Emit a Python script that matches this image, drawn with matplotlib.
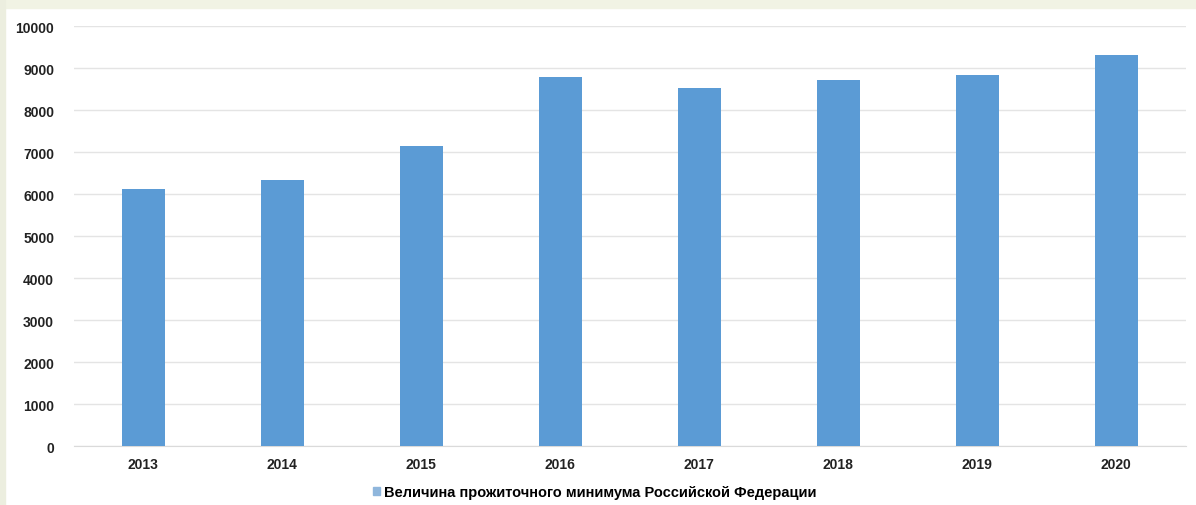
import matplotlib
matplotlib.use('Agg')
import matplotlib.pyplot as plt
from matplotlib.patches import Rectangle

years = ['2013', '2014', '2015', '2016', '2017', '2018', '2019', '2020']
values = [6110, 6330, 7140, 8790, 8520, 8720, 8840, 9310]
label = 'Величина прожиточного минимума Российской Федерации'

plt.rcParams['font.family'] = ['Liberation Sans', 'DejaVu Sans']

fig = plt.figure(figsize=(11.96, 5.06), dpi=100)
fig.patch.set_facecolor('white')
# thin beige strip along the top and left like the slide background
fig.patches.append(Rectangle((0, 0.982), 1, 0.018, transform=fig.transFigure,
                             color='#f1f3e4', zorder=0))
fig.patches.append(Rectangle((0, 0), 0.004, 1, transform=fig.transFigure,
                             color='#eceedf', zorder=0))

ax = fig.add_axes([0.0615, 0.1166, 0.93, 0.83])
x = range(len(years))
ax.bar(x, values, width=0.31, color='#5b9bd5', label=label, zorder=3)

ax.set_xlim(-0.5, len(years) - 0.5)
ax.set_ylim(0, 10000)
ax.set_yticks(range(0, 10001, 1000))
ax.set_xticks(list(x))
ax.set_xticklabels(years)
ax.grid(axis='y', color='#e4e4e4', linewidth=1, zorder=0)
for s in ['top', 'right', 'left']:
    ax.spines[s].set_visible(False)
ax.spines['bottom'].set_color('#dadada')
ax.tick_params(length=0, labelsize=10, colors='#222222')
ax.tick_params(axis='x', pad=8)
ax.tick_params(axis='y', pad=14)
for t in ax.get_xticklabels() + ax.get_yticklabels():
    t.set_fontweight('bold')

ax.legend(loc='upper center', bbox_to_anchor=(0.4685, -0.062), frameon=False,
          handlelength=0.5, handleheight=0.5, handletextpad=0.3,
          prop={'size': 10.5, 'weight': 'bold'})
ax.get_legend().legend_handles[0].set_color('#8fb6dc')

plt.savefig('out.png', dpi=100)
